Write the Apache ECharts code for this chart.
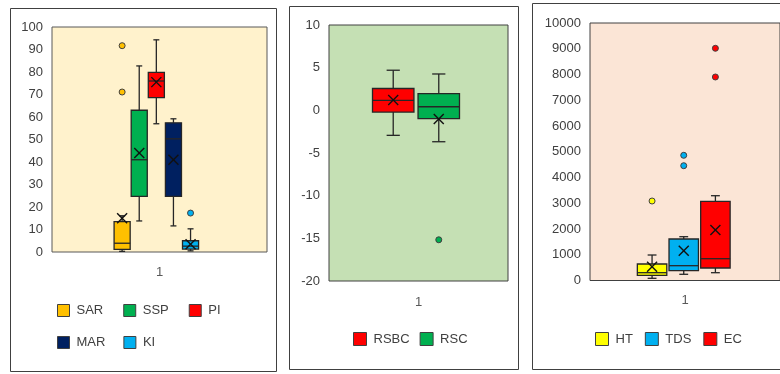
<!DOCTYPE html>
<html>
<head>
<meta charset="utf-8">
<script src="https://cdn.jsdelivr.net/npm/echarts@6/dist/echarts.min.js"></script>
<style>
html, body { margin: 0; padding: 0; background: #fff; }
#chart { width: 780px; height: 374px; }
</style>
</head>
<body>
<div id="chart"></div>
<script>
// box stats are [min, Q1, median, Q3, max]
const category = ['1'];

const p1Names = ['SAR', 'SSP', 'PI', 'MAR', 'KI'];
const p1Stats = [
    [0.3, 1.2, 3.9, 13.5, 16.1],
    [13.8, 24.7, 41, 63, 82.7],
    [57, 68.6, 76, 79.8, 94.3],
    [11.6, 24.7, 50.3, 57.4, 59.2],
    [0.5, 1.3, 2.6, 5, 10.3]
];
const p1Means = [15, 44, 75.5, 41, 3.4];
const p1Outliers = [[91.7, 71.1], [], [], [], [17.3]];

const p2Names = ['RSBC', 'RSC'];
const p2Stats = [
    [-2.93, -0.2, 1.17, 2.56, 4.7],
    [-3.68, -0.98, 0.42, 1.95, 4.26]
];
const p2Means = [1.2, -1.02];
const p2Outliers = [[], [-15.17]];

const p3Names = ['HT', 'TDS', 'EC'];
const p3Stats = [
    [85, 202, 303, 641, 990],
    [241, 381, 575, 1612, 1701],
    [303, 485, 847, 3076, 3293]
];
const p3Means = [536, 1157, 1961];
const p3Outliers = [[3087], [4862, 4458], [9018, 7903]];

const p1Colors = ['#FFC000', '#00B050', '#FF0000', '#002060', '#00B0F0'];
const p2Colors = ['#FF0000', '#00B050'];
const p3Colors = ['#FFFF00', '#00B0F0', '#FF0000'];

const ink = '#262626';
const font = 'Liberation Sans';

function boxRenderer(boxW, capW) {
    return function (params, api) {
        const x = api.value(0);
        const pt = k => api.coord([x, api.value(k)]);
        const lo = pt(1), q1 = pt(2), md = pt(3), q3 = pt(4), hi = pt(5), mn = pt(6);
        const half = api.size([boxW, 0])[0] / 2;
        const cap = api.size([capW, 0])[0] / 2;
        const cx = lo[0];
        const ls = { stroke: ink, lineWidth: 1.3 };
        const seg = (x1, y1, x2, y2, s) => ({ type: 'line', shape: { x1, y1, x2, y2 }, style: s || ls });
        const xs = { stroke: '#111', lineWidth: 1.4 };
        return {
            type: 'group',
            children: [
                seg(cx, hi[1], cx, q3[1]),
                seg(cx, q1[1], cx, lo[1]),
                seg(cx - cap, hi[1], cx + cap, hi[1]),
                seg(cx - cap, lo[1], cx + cap, lo[1]),
                {
                    type: 'rect',
                    shape: { x: cx - half, y: q3[1], width: half * 2, height: q1[1] - q3[1] },
                    style: { fill: api.visual('color'), stroke: ink, lineWidth: 1.3 }
                },
                seg(cx - half, md[1], cx + half, md[1]),
                seg(cx - 5, mn[1] - 5, cx + 5, mn[1] + 5, xs),
                seg(cx - 5, mn[1] + 5, cx + 5, mn[1] - 5, xs)
            ]
        };
    };
}

function panelSeries(idx, names, stats, means, outliers, colors, boxW, capW) {
    const out = [];
    names.forEach((name, i) => {
        out.push({
            name: name,
            type: 'custom',
            xAxisIndex: idx * 2 + 1,
            yAxisIndex: idx,
            itemStyle: { color: colors[i], borderColor: ink },
            renderItem: boxRenderer(boxW, capW),
            encode: { x: 0, y: [1, 2, 3, 4, 5, 6] },
            data: [[i].concat(stats[i], [means[i]])],
            z: 3
        });
    });
    names.forEach((name, i) => {
        if (!outliers[i].length) return;
        out.push({
            name: name,
            type: 'scatter',
            xAxisIndex: idx * 2 + 1,
            yAxisIndex: idx,
            symbol: 'circle',
            symbolSize: 6,
            itemStyle: { color: colors[i], borderColor: '#404040', borderWidth: 1, opacity: 1 },
            data: outliers[i].map(v => [i, v]),
            z: 4
        });
    });
    return out;
}

function catAxis(g, margin) {
    return {
        type: 'category', gridIndex: g, data: category,
        axisLine: { show: false }, axisTick: { show: false },
        axisLabel: { color: '#595959', fontFamily: font, fontSize: 13, margin: margin }
    };
}
function slotAxis(g, min, max) {
    return { type: 'value', gridIndex: g, min: min, max: max, show: false };
}
function valAxis(g, min, max, interval) {
    return {
        type: 'value', gridIndex: g, min: min, max: max, interval: interval,
        axisLine: { show: false }, axisTick: { show: false }, splitLine: { show: false },
        axisLabel: { color: '#404040', fontFamily: font, fontSize: 13, margin: 9, formatter: v => String(v) }
    };
}
function legend(names, left, top, gap, size) {
    return {
        data: names, left: left, top: top, orient: 'horizontal', padding: 0,
        icon: 'rect', itemWidth: size, itemHeight: size, itemGap: gap,
        itemStyle: { borderColor: '#404040', borderWidth: 1 },
        textStyle: { color: '#404040', fontFamily: font, fontSize: 13, padding: [0, 0, 0, 2] },
        selectedMode: false
    };
}

const chart = echarts.init(document.getElementById('chart'));
chart.setOption({
    animation: false,
    backgroundColor: '#fff',
    grid: [
        { left: 52, top: 27, width: 215, height: 225, show: true, backgroundColor: '#FFF2CC', borderColor: '#595959', borderWidth: 1 },
        { left: 329, top: 25, width: 179, height: 256, show: true, backgroundColor: '#C5E0B4', borderColor: '#404040', borderWidth: 1 },
        { left: 590, top: 23, width: 192, height: 257.5, show: true, backgroundColor: '#FBE5D6', borderColor: '#404040', borderWidth: 1 }
    ],
    xAxis: [
        catAxis(0, 14), slotAxis(0, -4.1, 8.47),
        catAxis(1, 15), slotAxis(1, -1.41, 2.52),
        catAxis(2, 13), slotAxis(2, -1.96, 4.04)
    ],
    yAxis: [
        valAxis(0, 0, 100, 10),
        valAxis(1, -20, 10, 5),
        valAxis(2, 0, 10000, 1000)
    ],
    legend: [
        legend(p1Names.slice(0, 3), 57, 304, 20, 12),
        legend(p1Names.slice(3), 57, 336, 18, 12),
        legend(p2Names, 353, 332, 10, 13),
        legend(p3Names, 595, 332, 12, 13)
    ],
    graphic: [
        { type: 'rect', silent: true, shape: { x: 10.5, y: 8.5, width: 266, height: 363 }, style: { fill: 'none', stroke: '#404040', lineWidth: 1 } },
        { type: 'rect', silent: true, shape: { x: 289.5, y: 6.5, width: 229, height: 363 }, style: { fill: 'none', stroke: '#404040', lineWidth: 1 } },
        { type: 'rect', silent: true, shape: { x: 532.5, y: 3.5, width: 300, height: 366 }, style: { fill: 'none', stroke: '#404040', lineWidth: 1 } }
    ],
    series: [].concat(
        panelSeries(0, p1Names, p1Stats, p1Means, p1Outliers, p1Colors, 0.94, 0.35),
        panelSeries(1, p2Names, p2Stats, p2Means, p2Outliers, p2Colors, 0.91, 0.29),
        panelSeries(2, p3Names, p3Stats, p3Means, p3Outliers, p3Colors, 0.93, 0.28)
    )
});
</script>
</body>
</html>
